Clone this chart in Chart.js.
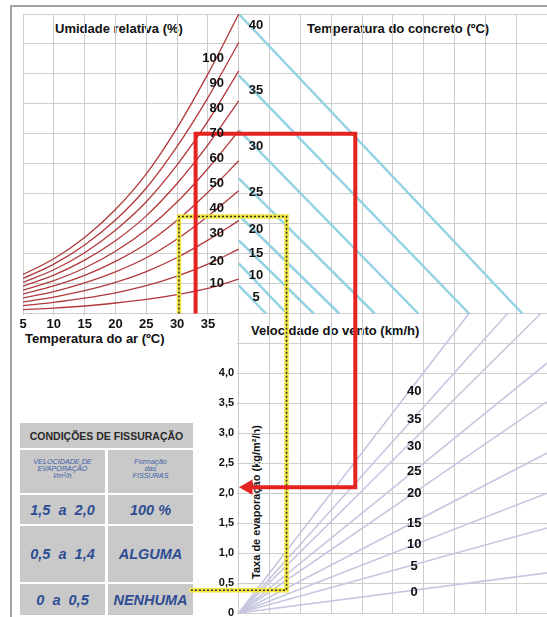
<!DOCTYPE html>
<html lang="pt">
<head>
<meta charset="utf-8">
<title>Taxa de evaporação</title>
<script src="https://cdn.jsdelivr.net/npm/chart.js@4.4.0/dist/chart.umd.min.js"></script>
<style>
    html, body { margin: 0; padding: 0; background: #fff; }
    #page { position: relative; width: 547px; height: 617px; overflow: hidden; font-family: "Liberation Sans", Arial, sans-serif; }
    #frame { position: absolute; left: 10px; top: 5px; right: -4px; bottom: -4px; border-left: 2px solid #a3a3a3; border-top: 2px solid #a3a3a3; }
    .title { position: absolute; font-weight: bold; font-size: 13px; line-height: 1; color: #111; white-space: nowrap; }
    #rateTitle { left: 256px; top: 502px; font-size: 11px; transform: translate(-50%, -50%) rotate(-90deg); }
    #crack { position: absolute; left: 20px; top: 423px; display: grid; grid-template-columns: 85px 85px; grid-template-rows: 25px 43px 29px 56px 31px; column-gap: 3px; row-gap: 2px; }
    #crack div { background: #c9c9c9; display: flex; align-items: center; justify-content: center; text-align: center; }
    #crack .head { grid-column: 1 / 3; font-weight: bold; font-size: 10.5px; color: #2a2a2a; }
    #crack .small { font-style: italic; font-size: 7.2px; line-height: 7px; color: #3d5da6; padding-bottom: 6px; }
    #crack .big { font-style: italic; font-weight: bold; font-size: 14.5px; color: #2e4d93; white-space: pre; }
    #chartBox { position: absolute; left: 0; top: 0; width: 547px; height: 617px; z-index: 2; }
</style>
</head>
<body>
<div id="page">
    <div id="frame"></div>
    <div class="title" style="left:55px; top:22px;">Umidade relativa (%)</div>
    <div class="title" style="left:307px; top:22px;">Temperatura do concreto (ºC)</div>
    <div class="title" style="left:25px; top:332px;">Temperatura do ar (ºC)</div>
    <div class="title" style="left:251px; top:324px;">Velocidade do vento (km/h)</div>
    <div class="title" id="rateTitle">Taxa de evaporação (kg/m²/h)</div>
    <div id="crack">
        <div class="head">CONDIÇÕES DE FISSURAÇÃO</div>
        <div class="small">VELOCIDADE DE<br>EVAPORAÇÃO<br>l/m²/h</div>
        <div class="small">Formação<br>das<br>FISSURAS</div>
        <div class="big">1,5  a  2,0</div>
        <div class="big">100 %</div>
        <div class="big">0,5  a  1,4</div>
        <div class="big">ALGUMA</div>
        <div class="big">0  a  0,5</div>
        <div class="big">NENHUMA</div>
    </div>
    <div id="chartBox"><canvas id="chart"></canvas></div>
</div>
<script>
// Air temperature (ºC) where the humidity curves were read
const airTemps = [5, 10, 15, 20, 25, 30, 35, 40];

// Relative humidity curves, height in grid cells above the middle axis
const humidityLevels = [10, 20, 30, 40, 50, 60, 70, 80, 90, 100];
const rh10  = [0.13, 0.18, 0.25, 0.35, 0.47, 0.63, 0.84, 1.15];
const rh20  = [0.26, 0.37, 0.51, 0.69, 0.93, 1.25, 1.65, 2.15];
const rh30  = [0.39, 0.55, 0.76, 1.04, 1.40, 1.87, 2.45, 3.10];
const rh40  = [0.52, 0.73, 1.02, 1.39, 1.86, 2.49, 3.25, 4.10];
const rh50  = [0.65, 0.92, 1.27, 1.74, 2.33, 3.11, 4.05, 5.10];
const rh60  = [0.78, 1.10, 1.52, 2.08, 2.80, 3.72, 4.84, 6.10];
const rh70  = [0.91, 1.28, 1.78, 2.43, 3.26, 4.34, 5.63, 7.10];
const rh80  = [1.04, 1.46, 2.03, 2.78, 3.73, 4.96, 6.42, 8.10];
const rh90  = [1.17, 1.65, 2.29, 3.12, 4.19, 5.58, 7.21, 9.05];
const rh100 = [1.30, 1.83, 2.54, 3.47, 4.66, 6.20, 8.00, 10.0];
const humidityCurves = [rh10, rh20, rh30, rh40, rh50, rh60, rh70, rh80, rh90, rh100];

// Concrete temperature lines: start height on the middle axis, end on the horizontal axis (grid cells)
const concreteTemps = [5, 10, 15, 20, 25, 30, 35, 40];
const concreteStartY = [0.94, 1.67, 2.44, 3.28, 4.51, 6.12, 7.95, 10.0];
const concreteEndX   = [0.88, 1.55, 2.43, 3.26, 4.41, 5.82, 7.47, 9.20];

// Wind speed lines from the origin: end point (grid cells, kg/m²/h)
const windSpeeds = [0, 5, 10, 15, 20, 25, 30, 35, 40];
const windEndX    = [10, 10, 10, 10, 10, 10, 9.80, 8.72, 7.47];
const windEndRate = [0.67, 1.42, 2.00, 2.67, 3.53, 4.17, 5.0, 5.0, 5.0];

// Evaporation rate ticks
const rateTicks = [0, 0.5, 1.0, 1.5, 2.0, 2.5, 3.0, 3.5, 4.0];

// Worked examples (red and yellow paths)
const redPathX = [-1.4, -1.4, 3.78, 3.78, 0.3];
const redPathY = [5.0, 8.0, 8.0, 2.1, 2.1];
const yellowPathX = [-1.94, -1.94, 1.55, 1.55, -1.6];
const yellowPathY = [5.0, 6.62, 6.62, 0.38, 0.38];

// Label anchors for the numbers on the curves
const humidityLabelX = -0.48;
const humidityLabelY = [1.0, 1.74, 2.68, 3.51, 4.35, 5.18, 6.02, 6.86, 7.69, 8.53];
const concreteLabelX = 0.56;
const concreteLabelY = [0.54, 1.27, 2.01, 2.81, 4.05, 5.59, 7.44, 9.63];
const windLabelX = 5.69;
const windLabelY = [0.35, 0.77, 1.14, 1.50, 1.99, 2.36, 2.78, 3.24, 3.70];

const labelFont = 'bold 13px "Liberation Sans", Arial, sans-serif';

function points(xs, ys) {
    return xs.map(function(v, i) { return {x: v, y: ys[i]}; });
}

function formatRate(v) {
    if (v === 0) return '0';
    return v.toFixed(1).replace('.', ',');
}

function noPadding(scale) {
    scale.paddingTop = 0;
    scale.paddingBottom = 0;
    scale.paddingLeft = 0;
    scale.paddingRight = 0;
}

let datasets = [];

// paths on top
datasets.push({
    data: points(redPathX, redPathY),
    xAxisID: 'x', yAxisID: 'y',
    borderColor: '#e52421', borderWidth: 4,
    pointRadius: [0, 0, 0, 0, 9], pointStyle: 'triangle', pointRotation: 270,
    pointBackgroundColor: '#e52421', pointBorderWidth: 0,
    order: 0
});
datasets.push({
    data: points(yellowPathX, yellowPathY),
    xAxisID: 'x', yAxisID: 'y',
    borderColor: '#2b2b2b', borderWidth: 1.5, borderDash: [2, 2],
    pointRadius: 0, order: 1
});
datasets.push({
    data: points(yellowPathX, yellowPathY),
    xAxisID: 'x', yAxisID: 'y',
    borderColor: '#f2e642', borderWidth: 4.5,
    pointRadius: 0, order: 2
});

humidityCurves.forEach(function(values) {
    datasets.push({
        data: points(airTemps, values),
        xAxisID: 'xAir', yAxisID: 'yTop',
        borderColor: '#b1383b', borderWidth: 1.3,
        pointRadius: 0, cubicInterpolationMode: 'monotone',
        order: 5
    });
});

concreteTemps.forEach(function(t, i) {
    datasets.push({
        data: [{x: 0, y: concreteStartY[i]}, {x: concreteEndX[i], y: 0}],
        xAxisID: 'x', yAxisID: 'yTop',
        borderColor: '#93d2e2', borderWidth: 2.5,
        pointRadius: 0, order: 5
    });
});

windSpeeds.forEach(function(v, i) {
    datasets.push({
        data: [{x: 0, y: 0}, {x: windEndX[i], y: windEndRate[i]}],
        xAxisID: 'x', yAxisID: 'y',
        borderColor: '#c6c6e0', borderWidth: 1.6,
        pointRadius: 0, order: 5
    });
});

// no grid in the lower left quadrant (the table sits there)
const clearLowerLeft = {
    id: 'clearLowerLeft',
    beforeDatasetsDraw: function(chart) {
        const area = chart.chartArea;
        const right = Math.floor(chart.scales.x.getPixelForValue(0)) - 1;
        const top = Math.ceil(chart.scales.y.getPixelForValue(5)) + 1;
        chart.ctx.clearRect(area.left - 2, top, right - area.left + 2, area.bottom + 4 - top);
    }
};

// numbers written along the curves and lines
const curveLabels = {
    id: 'curveLabels',
    afterDatasetsDraw: function(chart) {
        const ctx = chart.ctx;
        const s = chart.scales;
        ctx.save();
        ctx.font = labelFont;
        ctx.fillStyle = '#111';
        ctx.textBaseline = 'middle';
        ctx.textAlign = 'right';
        humidityLevels.forEach(function(h, i) {
            ctx.fillText(String(h), s.x.getPixelForValue(humidityLabelX), s.yTop.getPixelForValue(humidityLabelY[i]));
        });
        ctx.textAlign = 'center';
        concreteTemps.forEach(function(t, i) {
            ctx.fillText(String(t), s.x.getPixelForValue(concreteLabelX), s.yTop.getPixelForValue(concreteLabelY[i]));
        });
        windSpeeds.forEach(function(v, i) {
            ctx.fillText(String(v), s.x.getPixelForValue(windLabelX), s.y.getPixelForValue(windLabelY[i]));
        });
        ctx.restore();
    }
};

new Chart(document.getElementById('chart'), {
    type: 'line',
    data: { datasets: datasets },
    options: {
        responsive: true,
        maintainAspectRatio: false,
        animation: false,
        devicePixelRatio: 1,
        layout: { autoPadding: false, padding: { left: 23, top: 14, right: 0, bottom: 4 } },
        plugins: { legend: { display: false }, tooltip: { enabled: false } },
        scales: {
            x: {
                type: 'linear', min: -7, max: 10,
                ticks: { display: false, stepSize: 1, maxTicksLimit: 100 },
                grid: { color: '#cdcdcd', drawTicks: false },
                border: { display: false },
                afterFit: noPadding
            },
            y: {
                type: 'linear', min: 0, max: 10,
                position: { x: -0.15 },
                afterBuildTicks: function(scale) {
                    // keep every half unit for the grid
                    scale.ticks = [];
                    for (let i = 0; i <= 20; i++) scale.ticks.push({value: i / 2});
                },
                ticks: {
                    autoSkip: false, z: 1, color: '#111',
                    font: { family: '"Liberation Sans", Arial, sans-serif', size: 11, weight: 'bold' },
                    callback: function(v) { return rateTicks.indexOf(v) >= 0 ? formatRate(v) : ''; }
                },
                grid: { color: '#cdcdcd', drawTicks: false },
                border: { display: false },
                afterFit: noPadding
            },
            xAir: {
                type: 'linear', min: 5, max: 90,
                position: { y: 5 },
                ticks: {
                    stepSize: 5, autoSkip: false, maxRotation: 0, maxTicksLimit: 100, z: 1, padding: 3, color: '#111',
                    font: { family: '"Liberation Sans", Arial, sans-serif', size: 13, weight: 'bold' },
                    callback: function(v) { return v < 40 ? String(v) : ''; }
                },
                grid: { display: false, drawTicks: false },
                border: { display: false },
                afterFit: noPadding
            },
            yTop: { type: 'linear', min: -10, max: 10, display: false }
        }
    },
    plugins: [clearLowerLeft, curveLabels]
});
</script>
</body>
</html>
